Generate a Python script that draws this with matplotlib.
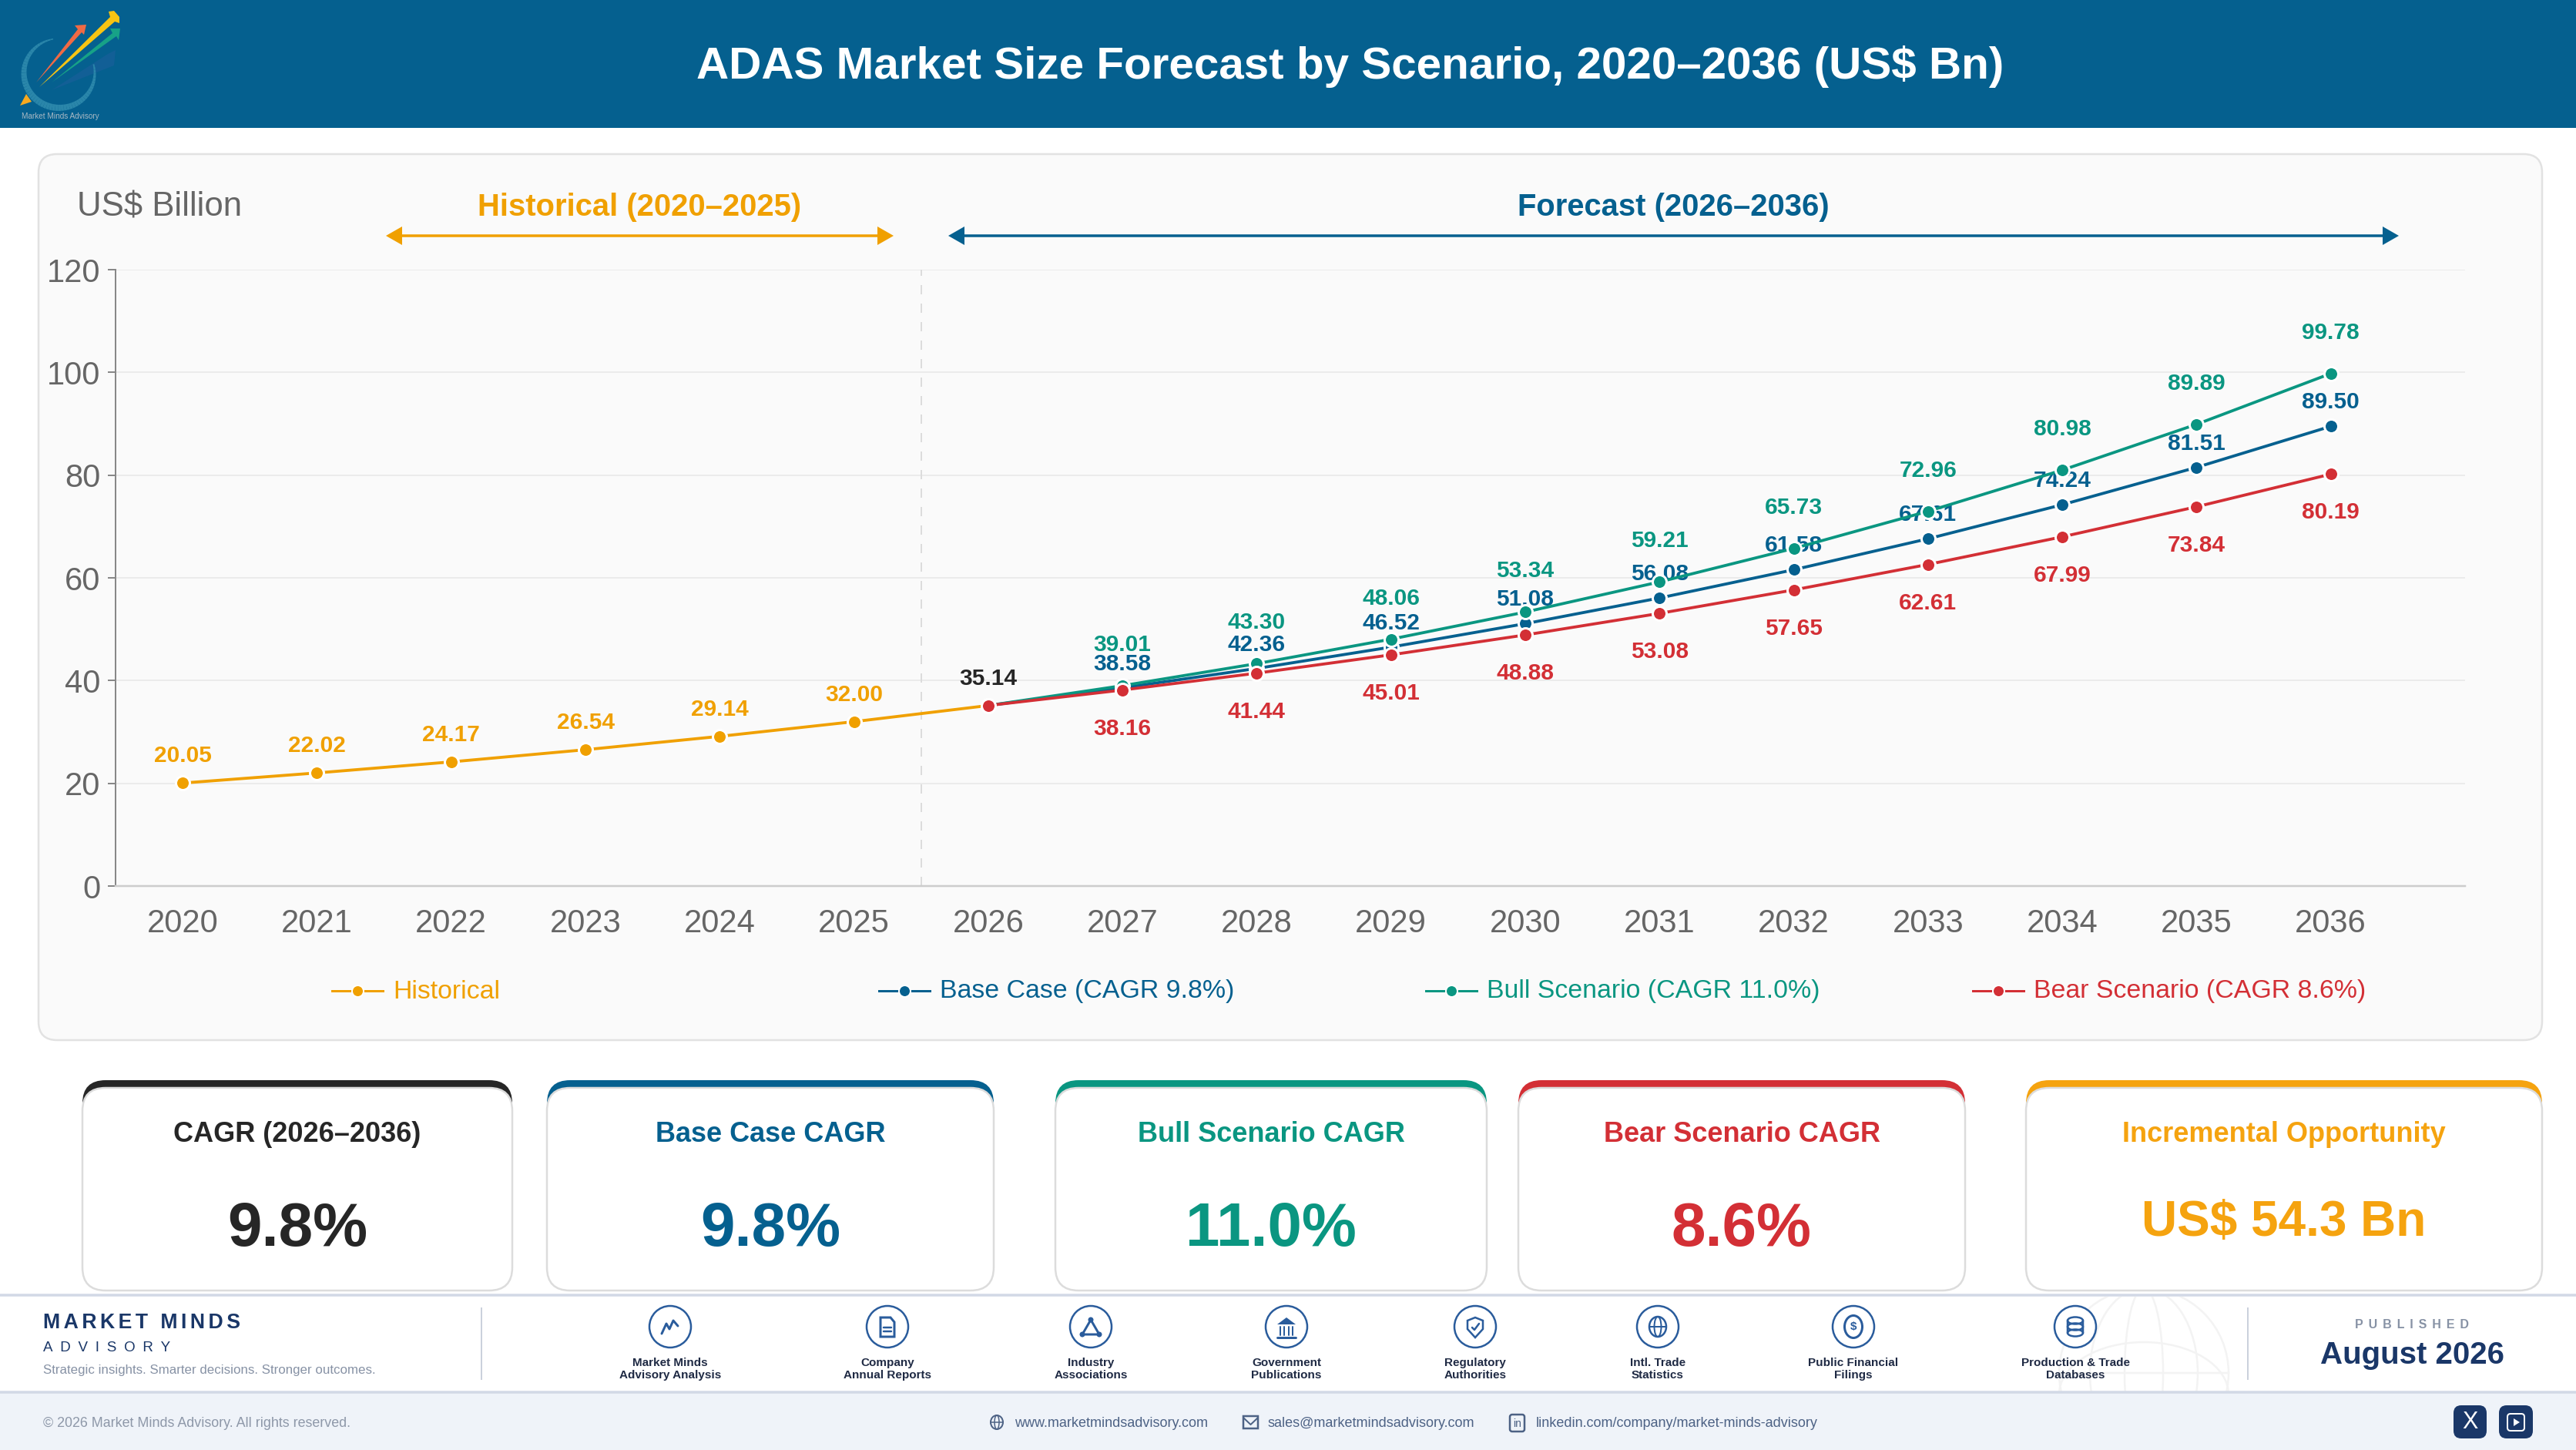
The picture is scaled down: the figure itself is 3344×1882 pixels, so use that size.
import numpy as np
import matplotlib
matplotlib.use('Agg')
import matplotlib.pyplot as plt
from matplotlib.patches import FancyBboxPatch, Circle, Ellipse, Polygon, Rectangle

plt.rcParams['font.family'] = ['Liberation Sans', 'DejaVu Sans']

years_hist = [2020, 2021, 2022, 2023, 2024, 2025, 2026]
years_fore = [2026, 2027, 2028, 2029, 2030, 2031, 2032, 2033, 2034, 2035, 2036]
all_years = years_hist + years_fore[1:]
historical = [20.05, 22.02, 24.17, 26.54, 29.14, 32.00, 35.14]
base_case = [35.14, 38.58, 42.36, 46.52, 51.08, 56.08, 61.58, 67.61, 74.24, 81.51, 89.50]
bull_case = [35.14, 39.01, 43.30, 48.06, 53.34, 59.21, 65.73, 72.96, 80.98, 89.89, 99.78]
bear_case = [35.14, 38.16, 41.44, 45.01, 48.88, 53.08, 57.65, 62.61, 67.99, 73.84, 80.19]
y_ticks = [0, 20, 40, 60, 80, 100, 120]

legend_labels = ['Historical', 'Base Case (CAGR 9.8%)', 'Bull Scenario (CAGR 11.0%)', 'Bear Scenario (CAGR 8.6%)']
kpi_titles = ['CAGR (2026–2036)', 'Base Case CAGR', 'Bull Scenario CAGR', 'Bear Scenario CAGR', 'Incremental Opportunity']
kpi_values = ['9.8%', '9.8%', '11.0%', '8.6%', 'US$ 54.3 Bn']
source_labels = ['Market Minds\nAdvisory Analysis', 'Company\nAnnual Reports', 'Industry\nAssociations',
                 'Government\nPublications', 'Regulatory\nAuthorities', 'Intl. Trade\nStatistics',
                 'Public Financial\nFilings', 'Production & Trade\nDatabases']

BLUE = '#05608f'
GREEN = '#0a9681'
RED = '#d32f35'
ORANGE = '#f0a000'
DARK = '#262626'
NAVY = '#1a3768'
ICON = '#2a5c9c'
W, H = 3344, 1882

fig = plt.figure(figsize=(W / 100, H / 100), dpi=100, facecolor='white')

# full page layer in pixels, for everything around the chart
bg = fig.add_axes([0, 0, 1, 1], zorder=0)
bg.set_xlim(0, W)
bg.set_ylim(H, 0)
bg.axis('off')


def px(v):
    return v * 0.72


def rbox(x0, y0, x1, y1, r, **kw):
    p = FancyBboxPatch((x0 + r, y0 + r), x1 - x0 - 2 * r, y1 - y0 - 2 * r,
                       boxstyle=f'round,pad={r},rounding_size={r}', **kw)
    bg.add_patch(p)
    return p


def pline(xs, ys, color=ICON, lw=2.5, **kw):
    bg.plot(xs, ys, color=color, lw=px(lw), solid_capstyle='round', **kw)


def spaced(s, n=1):
    return ('\u200a' * n).join(s)


# header
bg.add_patch(Rectangle((0, 0), W, 166, fc=BLUE, ec='none'))
bg.text(1753, 86, 'ADAS Market Size Forecast by Scenario, 2020–2036 (US$ Bn)', color='white',
        fontsize=42, fontweight='bold', ha='center', va='center')

# logo
t = np.linspace(np.radians(-80), np.radians(195), 60)
ring_x = 77 + 46 * np.cos(t + np.pi)
ring_y = 95 - 45 * np.sin(t + np.pi)
for i in range(len(t) - 1):
    f = np.sin(np.pi * i / (len(t) - 1))
    bg.plot(ring_x[i:i + 2], ring_y[i:i + 2], color='#2a86aa', lw=px(1.5 + 7 * f), solid_capstyle='butt')
bg.add_patch(Polygon([(67, 117), (140, 70), (150, 65), (148, 85)], fc='#125f96', ec='none'))
bg.add_patch(Polygon([(47, 107), (101, 38), (97, 33), (112, 32), (109, 45), (106, 42)], fc='#ef6a45', ec='none'))
bg.add_patch(Polygon([(67, 107), (146, 43), (143, 37), (156, 37), (154, 52), (151, 47)], fc='#17a287', ec='none'))
bg.add_patch(Polygon([(51, 113), (143, 22), (141, 15), (148, 14), (155, 22), (155, 30), (149, 28)], fc='#f7c413', ec='none'))
bg.add_patch(Polygon([(34, 122), (41, 132), (26, 137)], fc='#f8a91f', ec='none'))
bg.text(78, 151, 'Market Minds Advisory', color='#a9b9c4', fontsize=7.2, ha='center', va='center')

# chart card
rbox(50, 200, 3300, 1350, 24, fc='#fafafa', ec='#e2e2e2', lw=px(2.5))
bg.text(100, 269, 'US$ Billion', color='#666666', fontsize=31.5, ha='left', va='center')
bg.text(830, 269, 'Historical (2020–2025)', color=ORANGE, fontsize=28.8, fontweight='bold', ha='center', va='center')
bg.text(2172, 269, 'Forecast (2026–2036)', color=BLUE, fontsize=28.8, fontweight='bold', ha='center', va='center')
for x0, x1, c in [(501, 1160, ORANGE), (1231, 3114, BLUE)]:
    bg.plot([x0 + 15, x1 - 15], [306, 306], color=c, lw=px(3.5), solid_capstyle='butt')
    bg.add_patch(Polygon([(x0, 306), (x0 + 21, 294), (x0 + 21, 318)], fc=c, ec='none'))
    bg.add_patch(Polygon([(x1, 306), (x1 - 21, 294), (x1 - 21, 318)], fc=c, ec='none'))

# the chart itself
ax = fig.add_axes([150 / W, 1 - 1150 / H, 3050 / W, 800 / H], zorder=1)
ax.patch.set_alpha(0)
ax.set_xlim(2019.5, 2037)
ax.set_ylim(0, 120)
ax.set_yticks(y_ticks)
ax.set_xticks(all_years)
ax.set_xticklabels([str(y) for y in all_years])
ax.tick_params(axis='x', length=0, pad=21, labelsize=30, labelcolor='#666666')
ax.tick_params(axis='y', length=7, width=px(2), color='#888888', pad=7, labelsize=30, labelcolor='#666666')
ax.grid(axis='y', color='#ebebeb', lw=px(2))
ax.set_axisbelow(True)
for s in ['top', 'right']:
    ax.spines[s].set_visible(False)
ax.spines['left'].set_color('#888888')
ax.spines['left'].set_linewidth(px(2))
ax.spines['bottom'].set_color('#cccccc')
ax.spines['bottom'].set_linewidth(px(2.5))
ax.axvline(2025.5, color='#dcdcdc', lw=px(2), dashes=(6, 6), zorder=1)

series = [
    (years_hist, historical, ORANGE, -35, 2),
    (years_fore, base_case, BLUE, -31, 3),
    (years_fore, bull_case, GREEN, -53, 4),
    (years_fore, bear_case, RED, 50, 5),
]
for xs, ys, c, off, z in series:
    ax.plot(xs, ys, color=c, lw=px(3.8), marker='o', ms=px(18), mfc=c, mec='white', mew=px(3), zorder=z, clip_on=False)
    for x, y in zip(xs, ys):
        if x == 2026:
            if c == ORANGE:
                ax.annotate(f'{y:.2f}', (x, y), xytext=(0, px(35)), textcoords='offset points', color=DARK,
                            fontsize=21.5, fontweight='bold', ha='center', va='center', zorder=z + 0.5)
            continue
        ax.annotate(f'{y:.2f}', (x, y), xytext=(0, px(-off)), textcoords='offset points', color=c,
                    fontsize=21.5, fontweight='bold', ha='center', va='center', zorder=z + 0.5)

# legend, one item every 710 px
for i, (label, c) in enumerate(zip(legend_labels, [ORANGE, BLUE, GREEN, RED])):
    x0 = 431 + 710 * i
    bg.plot([x0, x0 + 66], [1286, 1286], color=c, lw=px(3), zorder=3)
    bg.plot([x0 + 33], [1286], color=c, marker='o', ms=px(15), mec='white', mew=px(2), zorder=4)
    bg.text(x0 + 79, 1287, label, color=c, fontsize=24.4, ha='left', va='center')

# KPI cards
card_x = [(107, 665), (710, 1290), (1370, 1930), (1971, 2551), (2630, 3300)]
card_c = [DARK, BLUE, GREEN, RED, '#f5a30f']
value_fs = [57.5, 57.5, 57.5, 57.5, 46]
value_y = [1597, 1597, 1597, 1597, 1587]
for (x0, x1), title, val, c, fs, vy in zip(card_x, kpi_titles, kpi_values, card_c, value_fs, value_y):
    rbox(x0, 1402, x1, 1480, 30, fc=c, ec='none')
    rbox(x0, 1412, x1, 1675, 30, fc='white', ec='#dcdcdc', lw=px(2.5))
    bg.text((x0 + x1) / 2, 1473, title, color=c, fontsize=26, fontweight='bold', ha='center', va='center')
    bg.text((x0 + x1) / 2, vy, val, color=c, fontsize=fs, fontweight='bold', ha='center', va='center')

# footer bands
bg.add_patch(Rectangle((0, 1807), W, H - 1807, fc='#eff3f9', ec='none'))
bg.plot([0, W], [1681, 1681], color='#d2d9e6', lw=px(3.5))
bg.plot([0, W], [1807, 1807], color='#d2d9e6', lw=px(3.5))

# faint globe behind the right of the footer
clip = Rectangle((0, 1683), W, 123, transform=bg.transData)
for rx in [110, 70, 25]:
    e = Ellipse((2783, 1782), rx * 2, 220, fc='none', ec='#f3f3f3', lw=px(2.5))
    bg.add_patch(e)
    e.set_clip_path(clip)
bg.plot([2673, 2893], [1782, 1782], color='#f3f3f3', lw=px(2.5))
arc = Ellipse((2783, 1810), 220, 136, fc='none', ec='#f3f3f3', lw=px(2.5))
bg.add_patch(arc)
arc.set_clip_path(clip)

bg.text(56, 1717, spaced('MARKET MINDS', 2), color=NAVY, fontsize=19.2, fontweight='bold', ha='left', va='center')
bg.text(56, 1749, spaced('ADVISORY', 6), color=NAVY, fontsize=13.5, ha='left', va='center')
bg.text(56, 1778, 'Strategic insights. Smarter decisions. Stronger outcomes.', color='#8792a5',
        fontsize=12.2, ha='left', va='center')
bg.plot([625, 625], [1698, 1790], color='#cbd1dc', lw=px(2))
bg.plot([2918, 2918], [1698, 1790], color='#cbd1dc', lw=px(2))
bg.text(3131, 1720, spaced('PUBLISHED', 5), color='#8792a5', fontsize=11.5, fontweight='bold', ha='center', va='center')
bg.text(3131, 1759, 'August 2026', color=NAVY, fontsize=29, fontweight='bold', ha='center', va='center')

source_x = [870, 1152, 1416, 1670, 1915, 2152, 2406, 2694]
cy = 1722
for x, label in zip(source_x, source_labels):
    bg.add_patch(Circle((x, cy), 27, fc='white', ec=ICON, lw=px(2.5)))
    bg.text(x, 1777, label, color='#1f2a44', fontsize=11, fontweight='bold', ha='center', va='center',
            linespacing=1.2)

# icons
x = source_x[0]
pline([x - 11, x - 5, x - 1, x + 4, x + 10], [cy + 9, cy - 4, cy + 3, cy - 8, cy - 1], lw=3)
x = source_x[1]
bg.add_patch(Polygon([(x - 9, cy - 12), (x + 4, cy - 12), (x + 9, cy - 6), (x + 9, cy + 13), (x - 9, cy + 13)],
                     fc='none', ec=ICON, lw=px(3)))
pline([x - 5, x + 5], [cy + 1, cy + 1])
pline([x - 5, x + 5], [cy + 6, cy + 6])
x = source_x[2]
bg.add_patch(Polygon([(x, cy - 9), (x - 11, cy + 10), (x + 11, cy + 10)], fc='none', ec=ICON, lw=px(3)))
for dx, dy in [(0, -9), (-11, 10), (11, 10)]:
    bg.add_patch(Circle((x + dx, cy + dy), 3.5, fc=ICON, ec='none'))
x = source_x[3]
bg.add_patch(Polygon([(x, cy - 12), (x - 12, cy - 3), (x + 12, cy - 3)], fc=ICON, ec='none'))
for dx in [-8, -3, 3, 8]:
    pline([x + dx, x + dx], [cy, cy + 11], lw=2)
pline([x - 12, x + 12], [cy + 14, cy + 14], lw=3)
x = source_x[4]
bg.add_patch(Polygon([(x, cy - 12), (x + 10, cy - 8), (x + 10, cy + 3), (x, cy + 14), (x - 10, cy + 3), (x - 10, cy - 8)],
                     fc='none', ec=ICON, lw=px(2.5)))
pline([x - 4, x - 1, x + 5], [cy + 1, cy + 4, cy - 4], lw=2.5)
x = source_x[5]
bg.add_patch(Ellipse((x, cy), 22, 26, fc='none', ec=ICON, lw=px(2.5)))
bg.add_patch(Ellipse((x, cy), 9, 26, fc='none', ec=ICON, lw=px(2)))
pline([x - 11, x + 11], [cy, cy], lw=2)
x = source_x[6]
bg.add_patch(Ellipse((x, cy), 23, 29, fc='none', ec=ICON, lw=px(3)))
bg.text(x, cy, '$', color=ICON, fontsize=11, fontweight='bold', ha='center', va='center')
x = source_x[7]
for dy in [-8, 0, 8]:
    bg.add_patch(Ellipse((x, cy + dy), 20, 9, fc='none', ec=ICON, lw=px(2.5)))
pline([x - 10, x - 10], [cy - 8, cy + 8])
pline([x + 10, x + 10], [cy - 8, cy + 8])

# bottom strip
bg.text(56, 1847, '© 2026 Market Minds Advisory. All rights reserved.', color='#8e98a9', fontsize=12.9,
        ha='left', va='center')
link_color = '#4d6285'
bg.text(1317, 1847, 'www.marketmindsadvisory.com', color=link_color, fontsize=13, ha='left', va='center')
bg.text(1646, 1847, 'sales@marketmindsadvisory.com', color=link_color, fontsize=13, ha='left', va='center')
bg.text(1994, 1847, 'linkedin.com/company/market-minds-advisory', color=link_color, fontsize=13, ha='left', va='center')
bg.add_patch(Ellipse((1294, 1846), 16, 18, fc='none', ec=link_color, lw=px(2)))
bg.add_patch(Ellipse((1294, 1846), 6, 18, fc='none', ec=link_color, lw=px(1.5)))
pline([1286, 1302], [1846, 1846], color=link_color, lw=1.5)
bg.add_patch(Rectangle((1614, 1838), 19, 16, fc='none', ec=link_color, lw=px(2.5)))
pline([1614, 1623.5, 1633], [1840, 1849, 1840], color=link_color, lw=2)
rbox(1960, 1836, 1979, 1858, 3, fc='none', ec=link_color, lw=px(2.5))
bg.text(1969.5, 1848, 'in', color=link_color, fontsize=10, ha='center', va='center')

for x0, x1 in [(3185, 3228), (3244, 3288)]:
    rbox(x0, 1824, x1, 1867, 10, fc=NAVY, ec='none')
bg.text(3206.5, 1846, 'X', color='white', fontsize=22, ha='center', va='center')
rbox(3255, 1835, 3277, 1857, 4, fc='none', ec='white', lw=px(2))
bg.add_patch(Polygon([(3263, 1841), (3263, 1851), (3271, 1846)], fc='white', ec='none'))

plt.savefig('out.png', dpi=100, facecolor='white')
plt.close()
